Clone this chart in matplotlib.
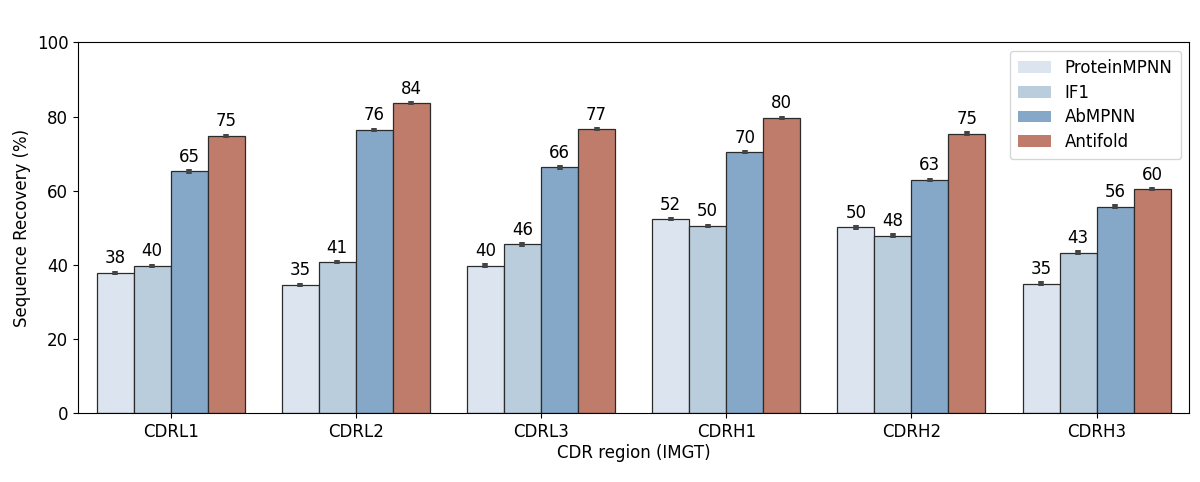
import numpy as np
import matplotlib
matplotlib.use("Agg")
import matplotlib.pyplot as plt
from matplotlib.patches import Patch

regions = ['CDRL1', 'CDRL2', 'CDRL3', 'CDRH1', 'CDRH2', 'CDRH3']
models = ['ProteinMPNN', 'IF1', 'AbMPNN', 'Antifold']
protein_mpnn = [37.8, 34.6, 39.8, 52.3, 50.1, 34.9]
if1 = [39.7, 40.7, 45.5, 50.5, 47.9, 43.3]
abmpnn = [65.2, 76.4, 66.3, 70.4, 62.9, 55.7]
antifold = [74.8, 83.6, 76.6, 79.6, 75.4, 60.4]
errors = [0.6, 0.6, 0.6, 0.6]
colors = ['#dce5ef', '#b9cddd', '#86a8c8', '#c07c6b']

plt.rcParams['font.family'] = ['DejaVu Sans']
fig, ax = plt.subplots(figsize=(12, 4.82), dpi=100)
fig.subplots_adjust(left=0.065, right=0.991, top=0.912, bottom=0.143)

x = np.arange(len(regions))
width = 0.2
series = [protein_mpnn, if1, abmpnn, antifold]
for i, (vals, name, col, err) in enumerate(zip(series, models, colors, errors)):
    pos = x - 0.3 + i * width
    ax.bar(pos, vals, width=width, color=col, edgecolor='#2b2b2b',
           linewidth=0.9)
    ax.errorbar(pos, vals, yerr=err, fmt='none', ecolor='#444444',
                elinewidth=4, capsize=0)
    for p, v in zip(pos, vals):
        ax.text(p, v + err + 0.9, f'{round(v):d}', ha='center', va='bottom',
                fontsize=12)

ax.set_xlim(-0.5, len(regions) - 0.5)
ax.set_ylim(0, 100)
ax.set_xticks(x)
ax.set_xticklabels(regions)
ax.tick_params(labelsize=12)
ax.set_xlabel('CDR region (IMGT)', fontsize=12, labelpad=2)
ax.set_ylabel('Sequence Recovery (%)', fontsize=12)

handles = [Patch(facecolor=c, edgecolor='none', label=m) for c, m in zip(colors, models)]
ax.legend(handles=handles, loc='upper right', fontsize=12, frameon=True,
          fancybox=True, edgecolor='#cccccc', handlelength=2.0,
          borderpad=0.5, labelspacing=0.4)

fig.savefig('out.png', dpi=100)
